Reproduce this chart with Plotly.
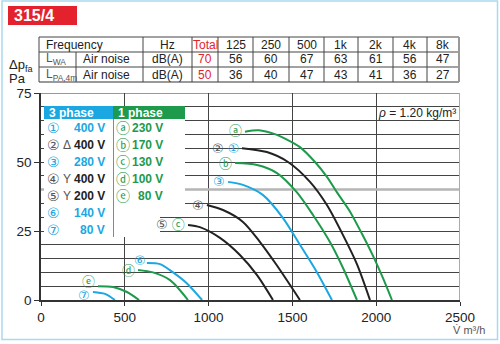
import plotly.graph_objects as go

# ---------------- data ----------------
# Fan curves: volume flow (m³/h) vs. static pressure rise (Pa)
flow_a = [1217, 1300, 1400, 1456, 1545, 1635, 1706, 1766, 1844, 1915, 1981, 2040, 2094]
dp_a = [61, 61.5, 60, 58.5, 55.4, 50, 44.6, 39, 32, 24, 16, 8, 0]

flow_12 = [1199, 1348, 1474, 1605, 1706, 1802, 1885, 1963]
dp_12 = [55, 53.6, 50, 42.8, 34.4, 23.5, 13, 0]

flow_b = [1158, 1289, 1408, 1527, 1623, 1724, 1802, 1885]
dp_b = [49.6, 48.9, 46, 39, 30.8, 21, 11.6, 0]

flow_3 = [1116, 1205, 1325, 1444, 1545, 1647, 1736]
dp_3 = [42.8, 41.7, 38, 29.7, 20, 10, 0]

flow_4 = [990, 1086, 1205, 1307, 1408, 1545]
dp_4 = [34.4, 32.6, 28.3, 21, 12.5, 0]

flow_5c = [877, 948, 1068, 1187, 1289, 1384]
dp_5c = [27.2, 26.4, 22.5, 16.3, 9, 0]

flow_6 = [632, 710, 788, 871, 961]
dp_6 = [13.4, 13, 10, 6, 0]

flow_d = [579, 668, 770, 877]
dp_d = [10.9, 10, 7.2, 0]

flow_e = [340, 430, 513, 585]
dp_e = [5, 4.7, 2.9, 0]

flow_7 = [310, 382, 441]
dp_7 = [2.9, 2.2, 0]

# Speed-step legend
three_phase_ids = ["①", "②", "③", "④", "⑤", "⑥", "⑦"]
three_phase_conn = ["", "Δ", "", "Y", "Y", "", ""]
three_phase_volts = ["400 V", "400 V", "280 V", "400 V", "200 V", "140 V", "80 V"]
one_phase_ids = ["ⓐ", "ⓑ", "ⓒ", "ⓓ", "ⓔ"]
one_phase_volts = ["230 V", "170 V", "130 V", "100 V", "80 V"]

# Sound data table
freq_bands = ["125", "250", "500", "1k", "2k", "4k", "8k"]
lwa_total = 70
lwa_values = [56, 60, 67, 63, 61, 56, 47]
lpa_total = 50
lpa_values = [36, 40, 47, 43, 41, 36, 27]

# ---------------- styling ----------------
BLUE = "#1ba7e2"
GREEN = "#1d9a4b"
BLACK = "#222222"
GREY = "#555555"
RED = "#e3222d"
SANS = "Liberation Sans, Arial, sans-serif"
SYM = "DejaVu Sans, Noto Sans CJK SC, sans-serif"

W, H = 500, 344
L, R, T, B = 41, 460, 93, 300  # plot area in pixels


def px(x):
    return (x - L) / (R - L)


def py(y):
    return (B - y) / (B - T)


def span(text, color):
    return f"<span style='color:{color}'>{text}</span>"


fig = go.Figure()

# (flow, pressure, line colour, label, label x/y shift in px)
curves = [
    (flow_a, dp_a, GREEN, span("ⓐ", GREEN), -1, 1),
    (flow_12, dp_12, BLACK, span("②", GREY) + " " + span("①", BLUE), -1, 0),
    (flow_b, dp_b, GREEN, span("ⓑ", GREEN), -1, 0),
    (flow_3, dp_3, BLUE, span("③", BLUE), -1, 0),
    (flow_4, dp_4, BLACK, span("④", GREY), -1, 0),
    (flow_5c, dp_5c, BLACK, span("⑤", GREY) + " " + span("ⓒ", GREEN), -1, 0),
    (flow_6, dp_6, BLUE, span("⑥", BLUE), 1, 3),
    (flow_d, dp_d, GREEN, span("ⓓ", GREEN), -1, -1),
    (flow_e, dp_e, GREEN, span("ⓔ", GREEN), -1, 5),
    (flow_7, dp_7, BLUE, span("⑦", BLUE), -1, -3),
]

annotations = []
for flow, dp, color, label, sx, sy in curves:
    fig.add_trace(go.Scatter(
        x=flow, y=dp, mode="lines",
        line=dict(color=color, width=2, shape="spline", smoothing=0.8),
        hoverinfo="skip", showlegend=False,
    ))
    annotations.append(dict(
        x=flow[0], y=dp[0], xref="x", yref="y", text=label,
        showarrow=False, xanchor="right", yanchor="middle", xshift=sx, yshift=sy,
        font=dict(family=SYM, size=13),
    ))

shapes = []

# extra grey rule at 40 Pa, top frame and right frame
shapes.append(dict(type="line", xref="x", yref="y", x0=0, x1=2500, y0=40, y1=40,
                   line=dict(color="#b5b5b5", width=2.5), layer="between"))
shapes.append(dict(type="line", xref="x", yref="y", x0=0, x1=2500, y0=75, y1=75,
                   line=dict(color="#333", width=1), layer="above"))
shapes.append(dict(type="line", xref="x", yref="y", x0=2500, x1=2500, y0=0, y1=75,
                   line=dict(color="#aaaaaa", width=2), layer="above"))

# legend panel (white background covering the grid)
shapes.append(dict(type="rect", xref="paper", yref="paper",
                   x0=px(44), x1=px(185), y0=py(205), y1=py(106),
                   fillcolor="white", line=dict(width=0), layer="above"))
shapes.append(dict(type="rect", xref="paper", yref="paper",
                   x0=px(44), x1=px(160), y0=py(237), y1=py(205),
                   fillcolor="white", line=dict(width=0), layer="above"))
shapes.append(dict(type="rect", xref="paper", yref="paper",
                   x0=px(44), x1=px(113), y0=py(119), y1=py(106),
                   fillcolor=BLUE, line=dict(width=0), layer="above"))
shapes.append(dict(type="rect", xref="paper", yref="paper",
                   x0=px(113), x1=px(185), y0=py(119), y1=py(106),
                   fillcolor=GREEN, line=dict(width=0), layer="above"))
shapes.append(dict(type="line", xref="paper", yref="paper",
                   x0=px(113.5), x1=px(113.5), y0=py(237), y1=py(119),
                   line=dict(color="#888", width=1), layer="above"))

annotations.append(dict(x=px(47), y=py(113), xref="paper", yref="paper", text="<b>3 phase</b>",
                        showarrow=False, xanchor="left", yanchor="middle",
                        font=dict(family=SANS, size=12, color="white")))
annotations.append(dict(x=px(116), y=py(113), xref="paper", yref="paper", text="<b>1 phase</b>",
                        showarrow=False, xanchor="left", yanchor="middle",
                        font=dict(family=SANS, size=12, color="white")))

row_y = [127.5, 144.5, 161.8, 178.5, 195.5, 212.5, 230]
for i, (cid, conn, volt) in enumerate(zip(three_phase_ids, three_phase_conn, three_phase_volts)):
    blue_row = conn == "" and i != 1
    c_id = BLUE if blue_row else GREY
    c_txt = BLUE if blue_row else BLACK
    annotations.append(dict(x=px(53), y=py(row_y[i]), xref="paper", yref="paper", text=cid,
                            showarrow=False, xanchor="center", yanchor="middle",
                            font=dict(family=SYM, size=14, color=c_id)))
    if conn:
        annotations.append(dict(x=px(67), y=py(row_y[i]), xref="paper", yref="paper", text=conn,
                                showarrow=False, xanchor="center", yanchor="middle",
                                font=dict(family=SANS, size=12, color=GREY)))
    annotations.append(dict(x=px(107), y=py(row_y[i]), xref="paper", yref="paper",
                            text=f"<b>{volt}</b>", showarrow=False, xanchor="right", yanchor="middle",
                            font=dict(family=SANS, size=12, color=c_txt)))

for i, (cid, volt) in enumerate(zip(one_phase_ids, one_phase_volts)):
    annotations.append(dict(x=px(123), y=py(row_y[i]), xref="paper", yref="paper", text=cid,
                            showarrow=False, xanchor="center", yanchor="middle",
                            font=dict(family=SYM, size=14, color=GREEN)))
    annotations.append(dict(x=px(165), y=py(row_y[i]), xref="paper", yref="paper",
                            text=f"<b>{volt}</b>", showarrow=False, xanchor="right", yanchor="middle",
                            font=dict(family=SANS, size=12, color=GREEN)))

# density note
annotations.append(dict(x=px(458), y=py(113), xref="paper", yref="paper",
                        text="<i>ρ</i> = 1.20 kg/m³", showarrow=False,
                        xanchor="right", yanchor="middle",
                        font=dict(family=SANS, size=12, color=BLACK)))

# axis titles
annotations.append(dict(x=px(7), y=py(65), xref="paper", yref="paper",
                        text="Δp<sub>fa</sub>", showarrow=False, xanchor="left", yanchor="middle",
                        font=dict(family=SANS, size=13, color=BLACK)))
annotations.append(dict(x=px(7), y=py(79), xref="paper", yref="paper",
                        text="Pa", showarrow=False, xanchor="left", yanchor="middle",
                        font=dict(family=SANS, size=13, color=BLACK)))
annotations.append(dict(x=px(487), y=py(330), xref="paper", yref="paper",
                        text="V̇ m³/h", showarrow=False, xanchor="right", yanchor="middle",
                        font=dict(family=SANS, size=11, color=GREY)))

# title tag
shapes.append(dict(type="rect", xref="paper", yref="paper",
                   x0=px(8), x1=px(77), y0=py(25), y1=py(6),
                   fillcolor=RED, line=dict(width=0), layer="above"))
annotations.append(dict(x=px(12), y=py(15.5), xref="paper", yref="paper",
                        text="<b>315/4</b>", showarrow=False, xanchor="left", yanchor="middle",
                        font=dict(family=SANS, size=16, color="white")))

# outer frame
shapes.append(dict(type="rect", xref="paper", yref="paper",
                   x0=px(2), x1=px(497.5), y0=py(339.5), y1=py(1),
                   fillcolor="rgba(0,0,0,0)", line=dict(color="#a9d9ee", width=1.5), layer="above"))

# ---------------- sound table ----------------
row_lines = [37, 52, 67, 82]
col_lines = [39, 143, 192, 218, 253, 289, 324, 358, 393, 427, 459]
TL = "#444"
for i, yv in enumerate(row_lines):
    shapes.append(dict(type="line", xref="paper", yref="paper",
                       x0=px(39), x1=px(459), y0=py(yv), y1=py(yv),
                       line=dict(color="#999" if i == 3 else TL, width=2 if i == 3 else 1),
                       layer="above"))
for j, xv in enumerate(col_lines):
    last = j == len(col_lines) - 1
    shapes.append(dict(type="line", xref="paper", yref="paper",
                       x0=px(xv), x1=px(xv), y0=py(82), y1=py(37),
                       line=dict(color="#999" if last else TL, width=2 if last else 1),
                       layer="above"))
shapes.append(dict(type="line", xref="paper", yref="paper",
                   x0=px(76), x1=px(76), y0=py(82), y1=py(52),
                   line=dict(color=TL, width=1), layer="above"))

row_c = [44.5, 59.5, 74.5]
centers = [(col_lines[k] + col_lines[k + 1]) / 2 for k in range(3, 10)]


def cell(x, y, text, color=BLACK, anchor="center"):
    annotations.append(dict(x=px(x), y=py(y), xref="paper", yref="paper", text=text,
                            showarrow=False, xanchor=anchor, yanchor="middle",
                            font=dict(family=SANS, size=12, color=color)))


cell(44, row_c[0], "Frequency", anchor="left")
cell(44, row_c[1], "L<sub>WA</sub>", GREY, anchor="left")
cell(44, row_c[2], "L<sub>PA,4m</sub>", GREY, anchor="left")
cell(81, row_c[1], "Air noise", anchor="left")
cell(81, row_c[2], "Air noise", anchor="left")
cell(167.5, row_c[0], "Hz")
cell(167.5, row_c[1], "dB(A)")
cell(167.5, row_c[2], "dB(A)")
cell(205, row_c[0], "Total", RED)
cell(205, row_c[1], str(lwa_total), RED)
cell(205, row_c[2], str(lpa_total), RED)
for cx, band, lw, lp in zip(centers, freq_bands, lwa_values, lpa_values):
    cell(cx, row_c[0], band)
    cell(cx, row_c[1], str(lw))
    cell(cx, row_c[2], str(lp))

fig.update_layout(
    width=W, height=H,
    margin=dict(l=L, r=W - R, t=T, b=H - B),
    paper_bgcolor="white", plot_bgcolor="white",
    showlegend=False,
    shapes=shapes, annotations=annotations,
    xaxis=dict(range=[0, 2500], tick0=0, dtick=500, ticks="outside", ticklen=4,
               tickcolor="#333", showgrid=True, gridcolor="#444", gridwidth=1,
               showline=True, linecolor="#333", linewidth=1.5, zeroline=False,
               tickfont=dict(family=SANS, size=13.5, color=BLACK), fixedrange=True),
    yaxis=dict(range=[0, 75], tick0=0, dtick=25, ticks="outside", ticklen=5,
               tickcolor="#333", showgrid=True, gridcolor="#444", gridwidth=1,
               minor=dict(dtick=5, showgrid=True, gridcolor="#444", gridwidth=1),
               showline=True, linecolor="#333", linewidth=1.5, zeroline=False,
               tickfont=dict(family=SANS, size=13.5, color=BLACK), fixedrange=True),
)

fig.write_html("out.html")
